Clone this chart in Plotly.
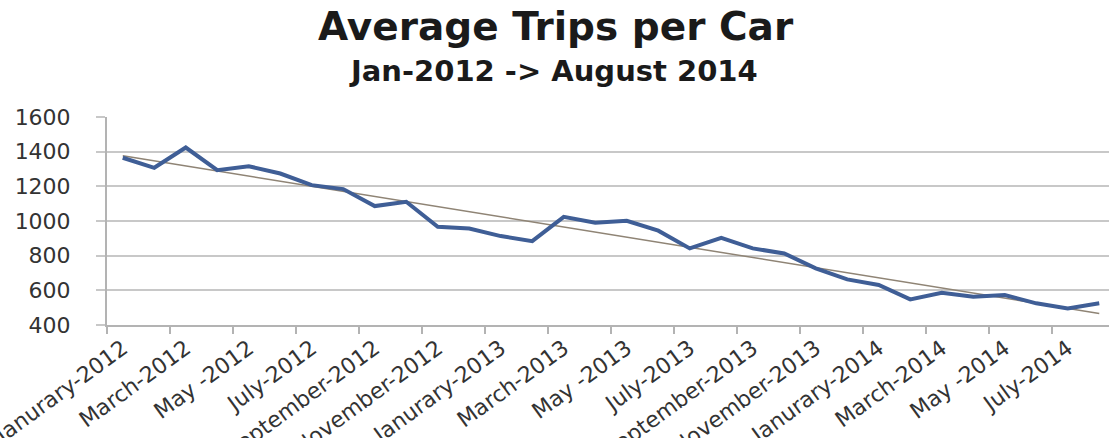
import numpy as np
import plotly.graph_objects as go

months = [
    "Jan-2012", "Feb-2012", "Mar-2012", "Apr-2012", "May-2012", "Jun-2012",
    "Jul-2012", "Aug-2012", "Sep-2012", "Oct-2012", "Nov-2012", "Dec-2012",
    "Jan-2013", "Feb-2013", "Mar-2013", "Apr-2013", "May-2013", "Jun-2013",
    "Jul-2013", "Aug-2013", "Sep-2013", "Oct-2013", "Nov-2013", "Dec-2013",
    "Jan-2014", "Feb-2014", "Mar-2014", "Apr-2014", "May-2014", "Jun-2014",
    "Jul-2014", "Aug-2014",
]
trips = [
    1365, 1307, 1424, 1293, 1316, 1274, 1207, 1184, 1086, 1111, 967, 957,
    913, 884, 1024, 990, 1001, 944, 842, 903, 842, 813, 727, 663,
    631, 548, 586, 563, 573, 525, 496, 525,
]
tick_labels = [
    "Janurary-2012", "March-2012", "May -2012", "July-2012", "September-2012",
    "November-2012", "Janurary-2013", "March-2013", "May -2013", "July-2013",
    "September-2013", "November-2013", "Janurary-2014", "March-2014",
    "May -2014", "July-2014",
]
y_ticks = [400, 600, 800, 1000, 1200, 1400, 1600]

idx = np.arange(len(months))
slope, intercept = np.polyfit(idx, np.array(trips, dtype=float), 1)
trend = slope * idx + intercept

W, H = 1109, 438
ml, mr, mt, mb = 107, 0, 117, 113
plot_w = W - ml - mr
cat_px = 31.5
x_range = [-0.5, -0.5 + plot_w / cat_px]

NBSP = "\u00a0"
y_text = [f"{v}{NBSP * 3}" for v in y_ticks]

fig = go.Figure()
fig.add_trace(go.Scatter(
    x=idx, y=trend, mode="lines",
    line=dict(color="#8f8475", width=1.5),
    hoverinfo="skip", showlegend=False,
))
fig.add_trace(go.Scatter(
    x=idx, y=trips, mode="lines", text=months,
    line=dict(color="#3f5e96", width=4),
    showlegend=False,
))

fig.update_layout(
    width=W, height=H,
    margin=dict(l=ml, r=mr, t=mt, b=mb, pad=0),
    paper_bgcolor="white", plot_bgcolor="white",
    xaxis=dict(
        range=x_range, autorange=False,
        tickmode="array", tickvals=list(idx[::2]), ticktext=tick_labels,
        tickangle=-36, ticks="", ticklabeloverflow="allow",
        tickfont=dict(family="DejaVu Sans", size=22, color="#333333"),
        showgrid=False, zeroline=False, automargin=False,
        showline=True, linecolor="#b3b3b3", linewidth=2,
        minor=dict(tickmode="linear", tick0=-0.5, dtick=2, ticks="outside",
                   ticklen=7, tickcolor="#b3b3b3", tickwidth=2, showgrid=False),
    ),
    yaxis=dict(
        range=[400, 1600], autorange=False,
        tickmode="array", tickvals=y_ticks, ticktext=y_text,
        tickfont=dict(family="DejaVu Sans", size=22, color="#333333"),
        ticks="outside", ticklen=9,
        tickcolor="#c8c8c8", tickwidth=2,
        showgrid=True, gridcolor="#c8c8c8", gridwidth=2,
        zeroline=False, automargin=False,
        showline=True, linecolor="#b3b3b3", linewidth=2,
    ),
    annotations=[
        dict(text="<b>Average Trips per Car</b>", xref="paper", yref="paper",
             x=(555.5 - ml) / plot_w, y=(H - mb - 26) / (H - mt - mb),
             xanchor="center", yanchor="middle", showarrow=False,
             font=dict(family="DejaVu Sans", size=39, color="#1a1a1a")),
        dict(text="<b>Jan-2012 -> August 2014</b>", xref="paper", yref="paper",
             x=(553.5 - ml) / plot_w, y=(H - mb - 71) / (H - mt - mb),
             xanchor="center", yanchor="middle", showarrow=False,
             font=dict(family="DejaVu Sans", size=29, color="#1a1a1a")),
    ],
)

fig.write_html("out.html")
